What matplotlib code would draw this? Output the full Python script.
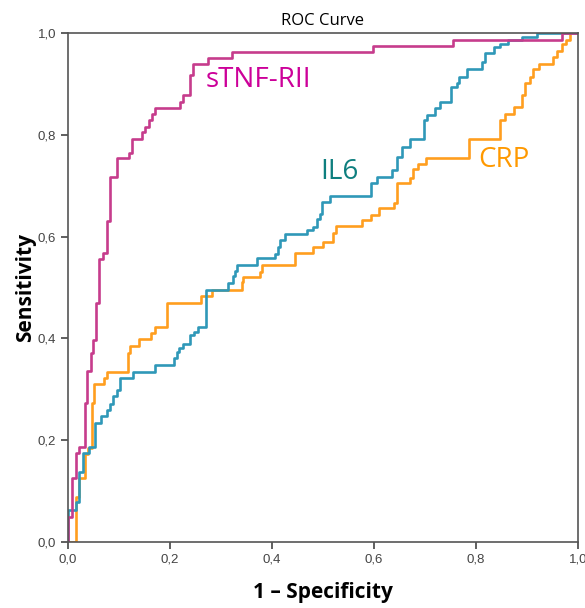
import matplotlib
matplotlib.use("Agg")
import matplotlib.pyplot as plt
from matplotlib.ticker import FuncFormatter

# ROC corner points: tpr is the level reached at each fpr
stnf_fpr = [0, 0, 0.008, 0.015, 0.021, 0.033, 0.038, 0.045, 0.050, 0.055,
            0.061, 0.069, 0.076, 0.082, 0.096, 0.120, 0.125, 0.145, 0.151, 0.158,
            0.164, 0.171, 0.220, 0.225, 0.239, 0.245, 0.275, 0.321, 0.598, 0.755,
            0.968, 1.0]
stnf_tpr = [0, 0.049, 0.126, 0.175, 0.187, 0.273, 0.335, 0.372, 0.396, 0.470,
            0.556, 0.568, 0.631, 0.717, 0.755, 0.765, 0.791, 0.806, 0.816, 0.829,
            0.841, 0.852, 0.865, 0.878, 0.917, 0.940, 0.951, 0.962, 0.975, 0.987,
            1.0, 1.0]

il6_fpr = [0, 0, 0.016, 0.022, 0.029, 0.042, 0.053, 0.064, 0.076, 0.082,
           0.089, 0.097, 0.102, 0.128, 0.171, 0.207, 0.213, 0.218, 0.226, 0.239,
           0.247, 0.254, 0.270, 0.314, 0.324, 0.327, 0.332, 0.370, 0.406, 0.411,
           0.416, 0.425, 0.469, 0.481, 0.488, 0.494, 0.499, 0.514, 0.595, 0.605,
           0.636, 0.645, 0.654, 0.670, 0.698, 0.703, 0.719, 0.729, 0.752, 0.762,
           0.767, 0.782, 0.811, 0.818, 0.835, 0.847, 0.863, 0.891, 0.920, 1.0]
il6_tpr = [0, 0.063, 0.078, 0.138, 0.174, 0.187, 0.233, 0.247, 0.259, 0.271,
           0.286, 0.299, 0.322, 0.333, 0.348, 0.361, 0.374, 0.381, 0.388, 0.407,
           0.413, 0.422, 0.495, 0.509, 0.522, 0.532, 0.545, 0.557, 0.566, 0.580,
           0.593, 0.605, 0.613, 0.619, 0.634, 0.644, 0.668, 0.680, 0.705, 0.718,
           0.731, 0.757, 0.776, 0.791, 0.829, 0.839, 0.852, 0.865, 0.894, 0.902,
           0.914, 0.929, 0.944, 0.960, 0.972, 0.978, 0.986, 0.992, 1.0, 1.0]

crp_fpr = [0, 0.016, 0.022, 0.033, 0.040, 0.0465, 0.052, 0.071, 0.076, 0.117,
           0.122, 0.140, 0.162, 0.171, 0.195, 0.260, 0.282, 0.341, 0.344, 0.377,
           0.380, 0.445, 0.481, 0.501, 0.520, 0.526, 0.576, 0.594, 0.609, 0.640,
           0.645, 0.671, 0.677, 0.687, 0.702, 0.787, 0.847, 0.857, 0.875, 0.890,
           0.896, 0.905, 0.912, 0.924, 0.952, 0.958, 0.968, 0.977, 0.984, 1.0]
crp_tpr = [0, 0.089, 0.125, 0.173, 0.185, 0.274, 0.310, 0.322, 0.333, 0.371,
           0.385, 0.398, 0.410, 0.422, 0.470, 0.483, 0.495, 0.510, 0.521, 0.531,
           0.544, 0.567, 0.580, 0.590, 0.607, 0.620, 0.632, 0.643, 0.656, 0.666,
           0.706, 0.716, 0.733, 0.743, 0.754, 0.791, 0.829, 0.840, 0.855, 0.878,
           0.902, 0.914, 0.930, 0.940, 0.953, 0.965, 0.978, 0.987, 1.0, 1.0]

ticks = [0.0, 0.2, 0.4, 0.6, 0.8, 1.0]

fig = plt.figure(figsize=(5.85, 6.08), dpi=100)
ax = fig.add_axes([0.1162, 0.1086, 0.8718, 0.8371])

ax.step(crp_fpr, crp_tpr, where="post", color="#FF9E1F", lw=1.9)
ax.step(il6_fpr, il6_tpr, where="post", color="#2F98B8", lw=1.9)
ax.step(stnf_fpr, stnf_tpr, where="post", color="#C63C8C", lw=1.9)

ax.text(0.269, 0.908, "sTNF-RII", color="#CC0099", fontsize=20,
        family="Open Sans", va="center", ha="left")
ax.text(0.494, 0.727, "IL6", color="#0E7F7F", fontsize=20,
        family="Open Sans", va="center", ha="left")
ax.text(0.804, 0.750, "CRP", color="#FF9900", fontsize=20,
        family="Open Sans", va="center", ha="left")

ax.set_xlim(0, 1)
ax.set_ylim(0, 1)
ax.set_xticks(ticks)
ax.set_yticks(ticks)
comma = FuncFormatter(lambda v, p: f"{v:.1f}".replace(".", ","))
ax.xaxis.set_major_formatter(comma)
ax.yaxis.set_major_formatter(comma)
ax.tick_params(direction="out", length=5, width=1.2, color="#444444",
               labelsize=9.5, labelcolor="#444444")
for lab in ax.get_xticklabels() + ax.get_yticklabels():
    lab.set_family("Liberation Sans")
for s in ax.spines.values():
    s.set_color("#555555")
    s.set_linewidth(1.2)

ax.set_title("ROC Curve", fontsize=12, family="Open Sans", pad=6)
ax.set_xlabel("1 \u2013 Specificity", fontsize=15, fontweight="bold",
              family="Open Sans", labelpad=12)
ax.set_ylabel("Sensitivity", fontsize=15, fontweight="bold",
              family="Open Sans", labelpad=1)

fig.savefig("out.png", dpi=100)
